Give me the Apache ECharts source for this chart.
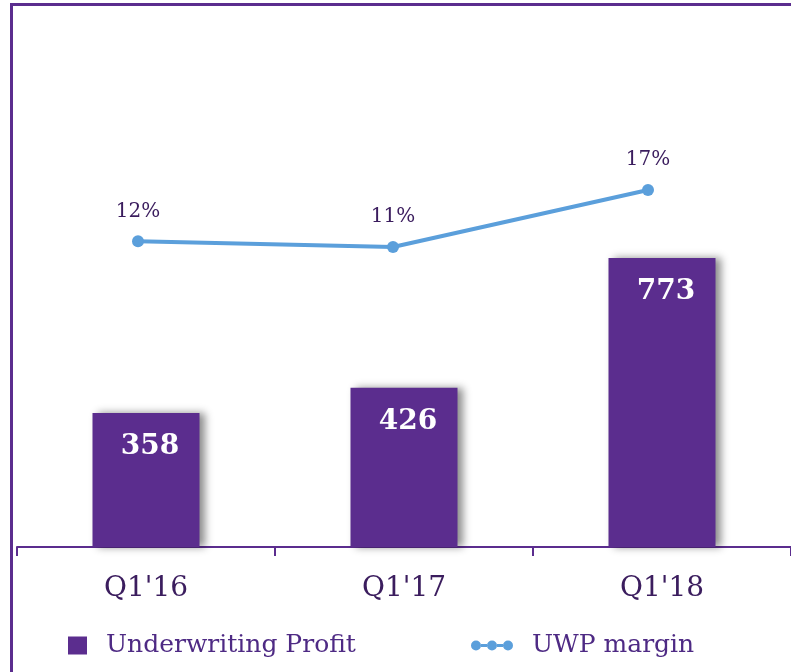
<!DOCTYPE html>
<html>
<head>
<meta charset="utf-8">
<script src="https://cdn.jsdelivr.net/npm/echarts@6/dist/echarts.min.js"></script>
<style>
  html, body { margin: 0; padding: 0; background: #fff; }
  #main { width: 791px; height: 672px; }
</style>
</head>
<body>
<div id="main"></div>
<script>
var quarters = ["Q1'16", "Q1'17", "Q1'18"];
var uwProfit = [358, 426, 773];
var uwpMargin = [11.6, 11.0, 17.0];
var marginLabels = ['12%', '11%', '17%'];

var purple = '#5b2d8e';
var darkText = '#3b1d5e';
var blue = '#5b9fdb';
var serif = "'DejaVu Serif', serif";

// three dots on a line, like the reference legend key
var dotLineIcon = 'path://M0,5a5,5 0 1,0 10,0a5,5 0 1,0 -10,0z' +
    'M16,5a5,5 0 1,0 10,0a5,5 0 1,0 -10,0z' +
    'M32,5a5,5 0 1,0 10,0a5,5 0 1,0 -10,0z' +
    'M10,3.5h6v3h-6z M26,3.5h6v3h-6z';

var chart = echarts.init(document.getElementById('main'));
chart.setOption({
    animation: false,
    backgroundColor: '#fff',
    graphic: [{
        type: 'rect',
        shape: { x: 11.5, y: 4.5, width: 900, height: 800 },
        style: { fill: 'none', stroke: purple, lineWidth: 3 },
        z: 0
    }],
    legend: [{
        left: 68, top: 633, padding: 0,
        itemWidth: 19, itemHeight: 18,
        data: [{ name: 'Underwriting Profit', icon: 'rect' }],
        textStyle: { fontFamily: serif, fontSize: 25, color: '#4e2a84', padding: [0, 0, 0, 14] }
    }, {
        left: 471, top: 633, padding: 0,
        itemWidth: 42, itemHeight: 10,
        data: [{ name: 'UWP margin', icon: dotLineIcon }],
        textStyle: { fontFamily: serif, fontSize: 25, color: '#4e2a84', padding: [0, 0, 0, 14] }
    }],
    grid: [
        { left: 17, right: 0, top: 23.4, bottom: 125 },
        { left: 10.5, width: 765, top: 161.5, height: 190 }
    ],
    xAxis: [{
        type: 'category',
        gridIndex: 0,
        data: quarters,
        axisLine: { lineStyle: { color: purple, width: 2 } },
        axisTick: { show: true, length: 9, lineStyle: { color: purple, width: 2 } },
        axisLabel: { fontFamily: serif, fontSize: 28, color: darkText, margin: 28 }
    }, {
        type: 'category',
        gridIndex: 1,
        data: quarters,
        show: false
    }],
    yAxis: [{
        type: 'value', gridIndex: 0, min: 0, max: 1400, show: false, splitLine: { show: false }
    }, {
        type: 'value', gridIndex: 1, min: 0, max: 20, show: false, splitLine: { show: false }
    }],
    series: [{
        name: 'Underwriting Profit',
        type: 'bar',
        xAxisIndex: 0, yAxisIndex: 0,
        data: uwProfit,
        barWidth: 107,
        itemStyle: {
            color: purple,
            shadowColor: 'rgba(0,0,0,0.45)',
            shadowBlur: 8,
            shadowOffsetX: 5,
            shadowOffsetY: 0
        },
        label: {
            show: true,
            position: 'insideTop',
            distance: 20,
            offset: [4, 0],
            fontFamily: serif,
            fontWeight: 'bold',
            fontSize: 28,
            color: '#fff'
        }
    }, {
        name: 'UWP margin',
        type: 'line',
        xAxisIndex: 1, yAxisIndex: 1,
        data: uwpMargin,
        symbol: 'circle',
        symbolSize: 12,
        lineStyle: { color: blue, width: 4 },
        itemStyle: { color: blue },
        label: {
            show: true,
            position: 'top',
            distance: 14,
            fontFamily: serif,
            fontSize: 20,
            color: darkText,
            formatter: function (p) { return marginLabels[p.dataIndex]; }
        }
    }]
});
</script>
</body>
</html>
